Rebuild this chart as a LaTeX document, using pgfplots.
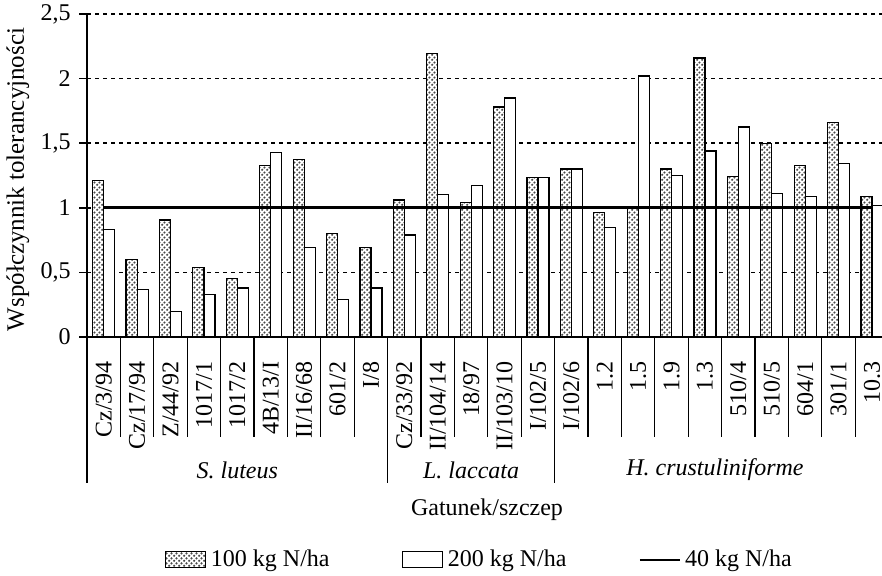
\documentclass[border=0pt]{standalone}
\usepackage{fontspec}
\setmainfont{Liberation Serif}
\usepackage{pgfplots}
\pgfplotsset{compat=1.18}
\usetikzlibrary{patterns}
\pgfdeclarepatternformonly{mydots}{\pgfpointorigin}{\pgfpoint{2.4pt}{2.4pt}}{\pgfpoint{2.4pt}{2.4pt}}{%
  \pgfpathcircle{\pgfpoint{0.6pt}{0.6pt}}{0.62pt}%
  \pgfpathcircle{\pgfpoint{1.8pt}{1.8pt}}{0.62pt}%
  \pgfusepath{fill}}
\pgfplotsset{
  rectleg/.style={legend image code/.code={\draw[##1] (0pt,-4pt) rectangle (20pt,4pt); \path (20.5pt,0pt);}},
  lineleg/.style={legend image code/.code={\draw[##1] (0pt,0pt) -- (20pt,0pt);}},
}

\begin{document}
\fontsize{12}{14}\selectfont
\begin{tikzpicture}[font=\fontsize{12}{14}\selectfont]
\begin{axis}[
  name=ax,
  scale only axis,
  width=398pt, height=161.5pt,
  xmin=-0.5, xmax=23.33,
  ymin=0, ymax=2.5,
  axis x line*=bottom, axis y line*=left,
  axis line style={line width=0.8pt, -},
  ytick={0,0.5,1,1.5,2,2.5},
  yticklabel style={/pgf/number format/.cd, use comma, fixed, assume math mode=true},
  ymajorgrids,
  y grid style={dash pattern=on 2pt off 2pt, line width=0.75pt, black},
  xtick={0,...,23},
  xticklabels={Cz/3/94,Cz/17/94,Z/44/92,1017/1,1017/2,4B/13/I,II/16/68,601/2,I/8,Cz/33/92,II/104/14,18/97,II/103/10,I/102/5,I/102/6,1.2,1.5,1.9,1.3,510/4,510/5,604/1,301/1,10.3},
  x tick style={draw=none},
  y tick style={line width=0.8pt, black},
  xticklabel style={rotate=90, anchor=east, inner sep=0pt},
  xticklabel shift=8pt,
  tick align=outside, major tick length=4pt,
  clip=false,
  legend columns=3,
  legend style={at={(axis description cs:0.494,-0.690)}, anchor=center, draw=none,
    /tikz/every even column/.append style={column sep=34pt}},
]
\addplot[ybar, bar width=0.33, bar shift=-0.165, draw=black, line width=0.6pt, fill=white,
  postaction={pattern=mydots, pattern color=black!70}, rectleg]
coordinates {(0,1.21) (1,0.60) (2,0.905) (3,0.54) (4,0.45) (5,1.33) (6,1.375) (7,0.80) (8,0.69)
 (9,1.06) (10,2.195) (11,1.04) (12,1.78) (13,1.235)
 (14,1.30) (15,0.965) (16,0.995) (17,1.30) (18,2.16) (19,1.245) (20,1.50) (21,1.33) (22,1.66) (23,1.09)};
\addlegendentry{100 kg N/ha}
\addplot[ybar, bar width=0.33, bar shift=0.165, draw=black, line width=0.6pt, fill=white, rectleg]
coordinates {(0,0.83) (1,0.37) (2,0.20) (3,0.33) (4,0.38) (5,1.425) (6,0.69) (7,0.29) (8,0.38)
 (9,0.79) (10,1.10) (11,1.175) (12,1.85) (13,1.235)
 (14,1.30) (15,0.85) (16,2.02) (17,1.25) (18,1.44) (19,1.625) (20,1.11) (21,1.09) (22,1.345) (23,1.02)};
\addlegendentry{200 kg N/ha}
\addplot[sharp plot, mark=none, black, line width=1.3pt, lineleg]
coordinates {(0,1) (1,1) (2,1) (3,1) (4,1) (5,1) (6,1) (7,1) (8,1) (9,1) (10,1) (11,1)
 (12,1) (13,1) (14,1) (15,1) (16,1) (17,1) (18,1) (19,1) (20,1) (21,1) (22,1) (23,1)};
\addlegendentry{40 kg N/ha}
\pgfplotsinvokeforeach{0.5,1.5,2.5,3.5,4.5,5.5,6.5,7.5,9.5,10.5,11.5,12.5,14.5,15.5,16.5,17.5,18.5,19.5,20.5,21.5,22.5}{
  \draw[line width=0.6pt] (axis cs:#1,0) -- ++(0pt,-50pt);
}
\pgfplotsinvokeforeach{-0.5,8.5,13.5}{
  \draw[line width=0.6pt] (axis cs:#1,0) -- ++(0pt,-73pt);
}
\node[font=\fontsize{12}{14}\selectfont\itshape, yshift=-66.5pt] at (axis cs:4,0) {S. luteus};
\node[font=\fontsize{12}{14}\selectfont\itshape, yshift=-66.5pt] at (axis cs:11,0) {L. laccata};
\node[font=\fontsize{12}{14}\selectfont\itshape, yshift=-66.5pt] at (axis cs:18.3,0) {H. crustuliniforme};
\end{axis}
\node[rotate=90, font=\fontsize{12.5}{14}\selectfont] at ([xshift=-34.5pt, yshift=-2pt]ax.west) {Współczynnik tolerancyjności};
\node at ([yshift=-86.5pt, xshift=1pt]ax.south) {Gatunek/szczep};
\pgfresetboundingbox
\path[use as bounding box] ([xshift=-43.5pt, yshift=-119.5pt]ax.south west) rectangle ([xshift=397.5pt, yshift=168.5pt]ax.south west);
\end{tikzpicture}
\end{document}
